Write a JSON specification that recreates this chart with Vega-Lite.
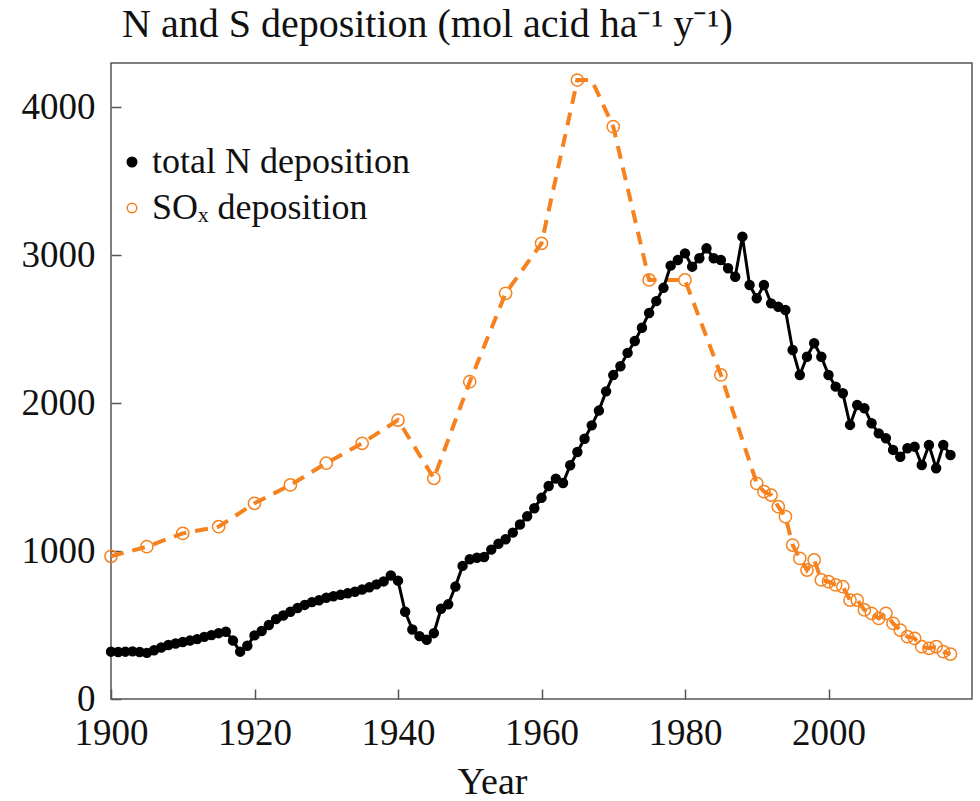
{
  "$schema": "https://vega.github.io/schema/vega-lite/v6.json",
  "width": 861,
  "height": 636,
  "autosize": {"type": "none"},
  "padding": {"left": 111, "top": 63, "right": 8, "bottom": 102},
  "background": "white",
  "config": {"view": {"stroke": "#555", "strokeWidth": 1.5}, "font": "Liberation Serif"},
  "title": {"text": "N and S deposition (mol acid ha⁻¹ y⁻¹)", "anchor": "start", "frame": "group", "font": "Liberation Serif", "fontSize": 40, "fontWeight": "normal", "color": "#111", "dx": 11, "offset": -14, "baseline": "alphabetic"},
  "datasets": {
    "dep": [
      {"series":"N","year":1900,"value":320},{"series":"N","year":1901,"value":318},{"series":"N","year":1902,"value":320},{"series":"N","year":1903,"value":322},{"series":"N","year":1904,"value":318},
      {"series":"N","year":1905,"value":312},{"series":"N","year":1906,"value":330},{"series":"N","year":1907,"value":348},{"series":"N","year":1908,"value":365},{"series":"N","year":1909,"value":375},
      {"series":"N","year":1910,"value":385},{"series":"N","year":1911,"value":395},{"series":"N","year":1912,"value":405},{"series":"N","year":1913,"value":420},{"series":"N","year":1914,"value":432},
      {"series":"N","year":1915,"value":445},{"series":"N","year":1916,"value":455},{"series":"N","year":1917,"value":395},{"series":"N","year":1918,"value":320},{"series":"N","year":1919,"value":360},
      {"series":"N","year":1920,"value":430},{"series":"N","year":1921,"value":460},{"series":"N","year":1922,"value":500},{"series":"N","year":1923,"value":540},{"series":"N","year":1924,"value":565},
      {"series":"N","year":1925,"value":590},{"series":"N","year":1926,"value":615},{"series":"N","year":1927,"value":636},{"series":"N","year":1928,"value":655},{"series":"N","year":1929,"value":668},
      {"series":"N","year":1930,"value":685},{"series":"N","year":1931,"value":695},{"series":"N","year":1932,"value":705},{"series":"N","year":1933,"value":715},{"series":"N","year":1934,"value":725},
      {"series":"N","year":1935,"value":740},{"series":"N","year":1936,"value":755},{"series":"N","year":1937,"value":775},{"series":"N","year":1938,"value":795},{"series":"N","year":1939,"value":835},
      {"series":"N","year":1940,"value":800},{"series":"N","year":1941,"value":590},{"series":"N","year":1942,"value":470},{"series":"N","year":1943,"value":425},{"series":"N","year":1944,"value":400},
      {"series":"N","year":1945,"value":445},{"series":"N","year":1946,"value":610},{"series":"N","year":1947,"value":640},{"series":"N","year":1948,"value":760},{"series":"N","year":1949,"value":900},
      {"series":"N","year":1950,"value":945},{"series":"N","year":1951,"value":955},{"series":"N","year":1952,"value":960},{"series":"N","year":1953,"value":1010},{"series":"N","year":1954,"value":1050},
      {"series":"N","year":1955,"value":1080},{"series":"N","year":1956,"value":1125},{"series":"N","year":1957,"value":1180},{"series":"N","year":1958,"value":1235},{"series":"N","year":1959,"value":1290},
      {"series":"N","year":1960,"value":1360},{"series":"N","year":1961,"value":1440},{"series":"N","year":1962,"value":1490},{"series":"N","year":1963,"value":1460},{"series":"N","year":1964,"value":1580},
      {"series":"N","year":1965,"value":1670},{"series":"N","year":1966,"value":1760},{"series":"N","year":1967,"value":1850},{"series":"N","year":1968,"value":1950},{"series":"N","year":1969,"value":2080},
      {"series":"N","year":1970,"value":2190},{"series":"N","year":1971,"value":2250},{"series":"N","year":1972,"value":2340},{"series":"N","year":1973,"value":2420},{"series":"N","year":1974,"value":2510},
      {"series":"N","year":1975,"value":2610},{"series":"N","year":1976,"value":2690},{"series":"N","year":1977,"value":2780},{"series":"N","year":1978,"value":2930},{"series":"N","year":1979,"value":2968},
      {"series":"N","year":1980,"value":3013},{"series":"N","year":1981,"value":2923},{"series":"N","year":1982,"value":2980},{"series":"N","year":1983,"value":3047},{"series":"N","year":1984,"value":2980},
      {"series":"N","year":1985,"value":2968},{"series":"N","year":1986,"value":2912},{"series":"N","year":1987,"value":2855},{"series":"N","year":1988,"value":3126},{"series":"N","year":1989,"value":2799},
      {"series":"N","year":1990,"value":2709},{"series":"N","year":1991,"value":2799},{"series":"N","year":1992,"value":2675},{"series":"N","year":1993,"value":2652},{"series":"N","year":1994,"value":2630},
      {"series":"N","year":1995,"value":2360},{"series":"N","year":1996,"value":2191},{"series":"N","year":1997,"value":2314},{"series":"N","year":1998,"value":2405},{"series":"N","year":1999,"value":2314},
      {"series":"N","year":2000,"value":2191},{"series":"N","year":2001,"value":2112},{"series":"N","year":2002,"value":2067},{"series":"N","year":2003,"value":1853},{"series":"N","year":2004,"value":1988},
      {"series":"N","year":2005,"value":1966},{"series":"N","year":2006,"value":1864},{"series":"N","year":2007,"value":1796},{"series":"N","year":2008,"value":1763},{"series":"N","year":2009,"value":1684},
      {"series":"N","year":2010,"value":1638},{"series":"N","year":2011,"value":1695},{"series":"N","year":2012,"value":1706},{"series":"N","year":2013,"value":1582},{"series":"N","year":2014,"value":1717},
      {"series":"N","year":2015,"value":1560},{"series":"N","year":2016,"value":1717},{"series":"N","year":2017,"value":1650},
      {"series":"SOx","year":1900,"value":965},{"series":"SOx","year":1905,"value":1030},{"series":"SOx","year":1910,"value":1120},{"series":"SOx","year":1915,"value":1165},
      {"series":"SOx","year":1920,"value":1323},{"series":"SOx","year":1925,"value":1447},{"series":"SOx","year":1930,"value":1594},{"series":"SOx","year":1935,"value":1729},
      {"series":"SOx","year":1940,"value":1886},{"series":"SOx","year":1945,"value":1492},{"series":"SOx","year":1950,"value":2145},{"series":"SOx","year":1955,"value":2743},
      {"series":"SOx","year":1960,"value":3081},{"series":"SOx","year":1965,"value":4185},{"series":"SOx","year":1967,"value":4185,"marker":false},{"series":"SOx","year":1970,"value":3870},
      {"series":"SOx","year":1975,"value":2833},{"series":"SOx","year":1980,"value":2833},{"series":"SOx","year":1985,"value":2191},
      {"series":"SOx","year":1990,"value":1458},{"series":"SOx","year":1991,"value":1402},{"series":"SOx","year":1992,"value":1379},{"series":"SOx","year":1993,"value":1300},{"series":"SOx","year":1994,"value":1233},
      {"series":"SOx","year":1995,"value":1041},{"series":"SOx","year":1996,"value":951},{"series":"SOx","year":1997,"value":872},{"series":"SOx","year":1998,"value":940},{"series":"SOx","year":1999,"value":805},
      {"series":"SOx","year":2000,"value":793},{"series":"SOx","year":2001,"value":771},{"series":"SOx","year":2002,"value":759},{"series":"SOx","year":2003,"value":669},{"series":"SOx","year":2004,"value":669},
      {"series":"SOx","year":2005,"value":602},{"series":"SOx","year":2006,"value":579},{"series":"SOx","year":2007,"value":545},{"series":"SOx","year":2008,"value":579},{"series":"SOx","year":2009,"value":511},
      {"series":"SOx","year":2010,"value":466},{"series":"SOx","year":2011,"value":421},{"series":"SOx","year":2012,"value":410},{"series":"SOx","year":2013,"value":354},{"series":"SOx","year":2014,"value":343},
      {"series":"SOx","year":2015,"value":354},{"series":"SOx","year":2016,"value":320},{"series":"SOx","year":2017,"value":304}
    ]
  },
  "data": {"name": "dep"},
  "encoding": {
    "x": {"field": "year", "type": "quantitative",
      "scale": {"domain": [1900, 2020], "nice": false, "zero": false},
      "axis": {"values": [1900, 1920, 1940, 1960, 1980, 2000], "format": "d", "title": "Year",
        "labelFont": "Liberation Serif", "labelFontSize": 37, "labelColor": "#111",
        "titleFont": "Liberation Serif", "titleFontSize": 38, "titleFontWeight": "normal", "titleColor": "#111",
        "titleX": 381, "titleY": 94, "titleBaseline": "alphabetic", "titleAlign": "center",
        "tickSize": -10, "tickColor": "#555", "tickWidth": 1.5, "labelPadding": 26,
        "domain": false, "grid": false, "labelFlush": false, "labelOverlap": false}},
    "y": {"field": "value", "type": "quantitative",
      "scale": {"domain": [0, 4300], "nice": false},
      "axis": {"values": [0, 1000, 2000, 3000, 4000], "format": "d", "title": null,
        "labelFont": "Liberation Serif", "labelFontSize": 37, "labelColor": "#111",
        "tickSize": -10, "tickColor": "#555", "tickWidth": 1.5, "labelPadding": 26,
        "domain": false, "grid": false, "labelFlush": false, "labelOverlap": false}}
  },
  "layer": [
    {"transform": [{"filter": "datum.series == 'SOx'"}],
     "mark": {"type": "line", "color": "#f5821f", "strokeWidth": 4, "strokeDash": [13, 9]},
     "encoding": {}},
    {"transform": [{"filter": "datum.series == 'N'"}],
     "mark": {"type": "line", "color": "black", "strokeWidth": 3},
     "encoding": {}},
    {"transform": [{"filter": "datum.series == 'SOx' && datum.marker !== false"}],
     "mark": {"type": "point", "shape": "circle", "strokeWidth": 1.5, "size": 150, "opacity": 1},
     "encoding": {
       "fill": {"field": "series", "type": "nominal",
         "scale": {"domain": ["N", "SOx"], "range": ["black", "transparent"]},
         "legend": {"orient": "none", "legendX": 3, "legendY": 81, "title": null,
           "labelExpr": "datum.label == 'N' ? 'total N deposition' : 'SOₓ deposition'",
           "labelFont": "Liberation Serif", "labelFontSize": 36, "labelColor": "#111", "labelLimit": 0,
           "symbolType": "circle", "symbolSize": 90, "symbolStrokeWidth": 1.5,
           "rowPadding": 10, "labelOffset": 2, "padding": 0}},
       "stroke": {"field": "series", "type": "nominal",
         "scale": {"domain": ["N", "SOx"], "range": ["black", "#f5821f"]},
         "legend": {"orient": "none", "legendX": 3, "legendY": 81, "title": null,
           "labelExpr": "datum.label == 'N' ? 'total N deposition' : 'SOₓ deposition'",
           "labelFont": "Liberation Serif", "labelFontSize": 36, "labelColor": "#111", "labelLimit": 0,
           "symbolType": "circle", "symbolSize": 90, "symbolStrokeWidth": 1.5,
           "rowPadding": 10, "labelOffset": 2, "padding": 0}}
     }},
    {"transform": [{"filter": "datum.series == 'N'"}],
     "mark": {"type": "point", "shape": "circle", "strokeWidth": 1.5, "size": 80, "opacity": 1},
     "encoding": {
       "fill": {"field": "series", "type": "nominal"},
       "stroke": {"field": "series", "type": "nominal"}
     }}
  ]
}
